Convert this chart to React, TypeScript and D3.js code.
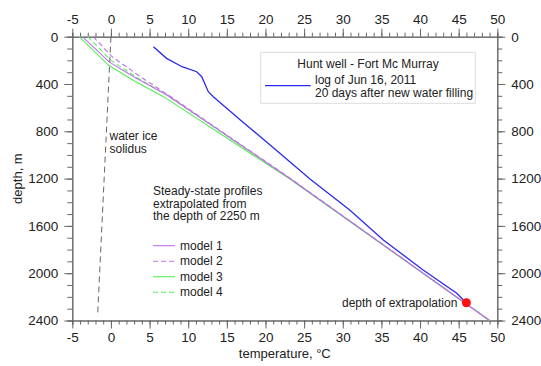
import { useEffect, useRef } from 'react'
import * as d3 from 'd3'

// temperature °C, depth m
const wellLog = [
  [5.5, 85], [7.2, 183], [9.2, 254], [11.1, 296], [11.75, 338], [12.6, 465], [13.25, 507],
  [16.9, 712], [20.6, 916], [25.8, 1206], [30.9, 1466], [35.25, 1719], [40.4, 1973], [44.75, 2170], [46.0, 2250],
]
const model1 = [[-3.7, 0], [-0.2, 215], [3.0, 340], [7.3, 495], [23.25, 1203], [49, 2400]]
const model2 = [[-2.3, 0], [0.2, 172], [3.8, 338], [7.4, 492], [23.3, 1202], [49, 2400]]
const model3 = [[-4.1, 0], [-0.3, 242], [3.0, 372], [6.8, 507], [23.2, 1206], [49, 2400]]
const model4 = [[-3.0, 0], [0.0, 200], [3.5, 350], [7.3, 497], [23.25, 1204], [49, 2400]]
const solidus = [[0, 0], [-1.72, 2350]]
const extrapolationPoint = [46, 2250]

const xTicks = [-5, 0, 5, 10, 15, 20, 25, 30, 35, 40, 45, 50]
const yTicks = [0, 400, 800, 1200, 1600, 2000, 2400]

const models = [
  { name: 'model 1', data: model1, color: '#c070e8', dash: null },
  { name: 'model 2', data: model2, color: '#c070e8', dash: '5,3' },
  { name: 'model 3', data: model3, color: '#55ee55', dash: null },
  { name: 'model 4', data: model4, color: '#55ee55', dash: '5,3' },
]

export default function App() {
  const containerRef = useRef<HTMLDivElement>(null)

  useEffect(() => {
    if (!containerRef.current) return
    document.body.style.margin = '0'
    const container = containerRef.current
    container.innerHTML = ''

    const width = 541
    const height = 366
    const left = 72.3, right = 497.3, top = 36.7, bottom = 320.5
    const axisColor = '#666'
    const font = 'Liberation Sans, Arial, sans-serif'
    const fmt = (d: any) => String(d)

    const svg = d3.select(container)
      .append('svg')
      .attr('width', width)
      .attr('height', height)
      .style('display', 'block')
      .style('font-family', font)

    svg.append('rect').attr('width', width).attr('height', height).attr('fill', '#fff')

    const x = d3.scaleLinear().domain([-5, 50]).range([left, right])
    const y = d3.scaleLinear().domain([0, 2400]).range([top, bottom])

    const styleAxis = (g: any) => {
      g.select('.domain').attr('stroke', axisColor)
      g.selectAll('line').attr('stroke', axisColor)
      g.selectAll('text').attr('fill', '#222').style('font-size', '13.5px').style('font-family', font)
    }

    // minor ticks
    const xMinor = d3.range(-5, 51, 1)
    const yMinor = d3.range(0, 2401, 100)
    svg.append('g').attr('transform', `translate(0,${bottom})`)
      .call(d3.axisBottom(x).tickValues(xMinor).tickSize(4).tickFormat(() => '')).call(styleAxis)
    svg.append('g').attr('transform', `translate(0,${top})`)
      .call(d3.axisTop(x).tickValues(xMinor).tickSize(4).tickFormat(() => '')).call(styleAxis)
    svg.append('g').attr('transform', `translate(${left},0)`)
      .call(d3.axisLeft(y).tickValues(yMinor).tickSize(5).tickFormat(() => '')).call(styleAxis)
    svg.append('g').attr('transform', `translate(${right},0)`)
      .call(d3.axisRight(y).tickValues(yMinor).tickSize(5).tickFormat(() => '')).call(styleAxis)

    // major ticks
    svg.append('g').attr('transform', `translate(0,${bottom})`)
      .call(d3.axisBottom(x).tickValues(xTicks).tickSize(8).tickPadding(4).tickSizeOuter(0).tickFormat(fmt)).call(styleAxis)
    svg.append('g').attr('transform', `translate(0,${top})`)
      .call(d3.axisTop(x).tickValues(xTicks).tickSize(8).tickPadding(5).tickSizeOuter(0).tickFormat(fmt)).call(styleAxis)
    svg.append('g').attr('transform', `translate(${left},0)`)
      .call(d3.axisLeft(y).tickValues(yTicks).tickSize(8).tickPadding(6).tickSizeOuter(0).tickFormat(fmt)).call(styleAxis)
    svg.append('g').attr('transform', `translate(${right},0)`)
      .call(d3.axisRight(y).tickValues(yTicks).tickSize(8).tickPadding(6).tickSizeOuter(0).tickFormat(fmt)).call(styleAxis)

    const line = d3.line<number[]>().x(d => x(d[0])).y(d => y(d[1]))

    // water ice solidus
    svg.append('path').attr('d', line(solidus)).attr('fill', 'none')
      .attr('stroke', '#666').attr('stroke-width', 1).attr('stroke-dasharray', '6,4')

    models.slice().reverse().forEach(m => {
      svg.append('path').attr('d', line(m.data)).attr('fill', 'none')
        .attr('stroke', m.color).attr('stroke-width', 1.1)
        .attr('stroke-dasharray', m.dash)
    })

    svg.append('path').attr('d', line(wellLog)).attr('fill', 'none')
      .attr('stroke', '#2a2af0').attr('stroke-width', 1.3)

    svg.append('circle').attr('cx', x(extrapolationPoint[0])).attr('cy', y(extrapolationPoint[1]))
      .attr('r', 4.5).attr('fill', '#ff1010')

    const txt = (tx: number, ty: number, s: string, size = 12, anchor = 'start') =>
      svg.append('text').attr('x', tx).attr('y', ty).attr('text-anchor', anchor)
        .style('font-size', `${size}px`).attr('fill', '#222').text(s)

    txt(x(extrapolationPoint[0]) - 9, y(extrapolationPoint[1]) + 4, 'depth of extrapolation', 12, 'end')
    txt(109.5, 140, 'water ice')
    txt(109.5, 153, 'solidus')

    txt(153, 195, 'Steady-state profiles')
    txt(153, 207.5, 'extrapolated from')
    txt(153, 220, 'the depth of 2250 m')

    models.forEach((m, i) => {
      const ly = 245.7 + i * 15.5
      svg.append('line').attr('x1', 153).attr('x2', 175).attr('y1', ly).attr('y2', ly)
        .attr('stroke', m.color).attr('stroke-width', 1.1).attr('stroke-dasharray', m.dash)
      txt(180, ly + 4, m.name)
    })

    // legend box
    svg.append('rect').attr('x', 260.7).attr('y', 52.3).attr('width', 214.6).attr('height', 51)
      .attr('fill', '#fff').attr('stroke', '#ddd').attr('stroke-width', 1)
    txt(368, 67.5, 'Hunt well - Fort Mc Murray', 12, 'middle')
    svg.append('line').attr('x1', 265).attr('x2', 310.7).attr('y1', 85.7).attr('y2', 85.7)
      .attr('stroke', '#2a2af0').attr('stroke-width', 1.3)
    txt(315, 84, 'log of Jun 16, 2011')
    txt(315, 96.7, '20 days after new water filling')

    // axis titles
    txt((left + right) / 2, 358, 'temperature, °C', 13, 'middle')
    svg.append('text')
      .attr('transform', `translate(22,${(top + bottom) / 2}) rotate(-90)`)
      .attr('text-anchor', 'middle').style('font-size', '13px').attr('fill', '#222')
      .text('depth, m')

    return () => { container.innerHTML = '' }
  }, [])

  return <div ref={containerRef} />
}
